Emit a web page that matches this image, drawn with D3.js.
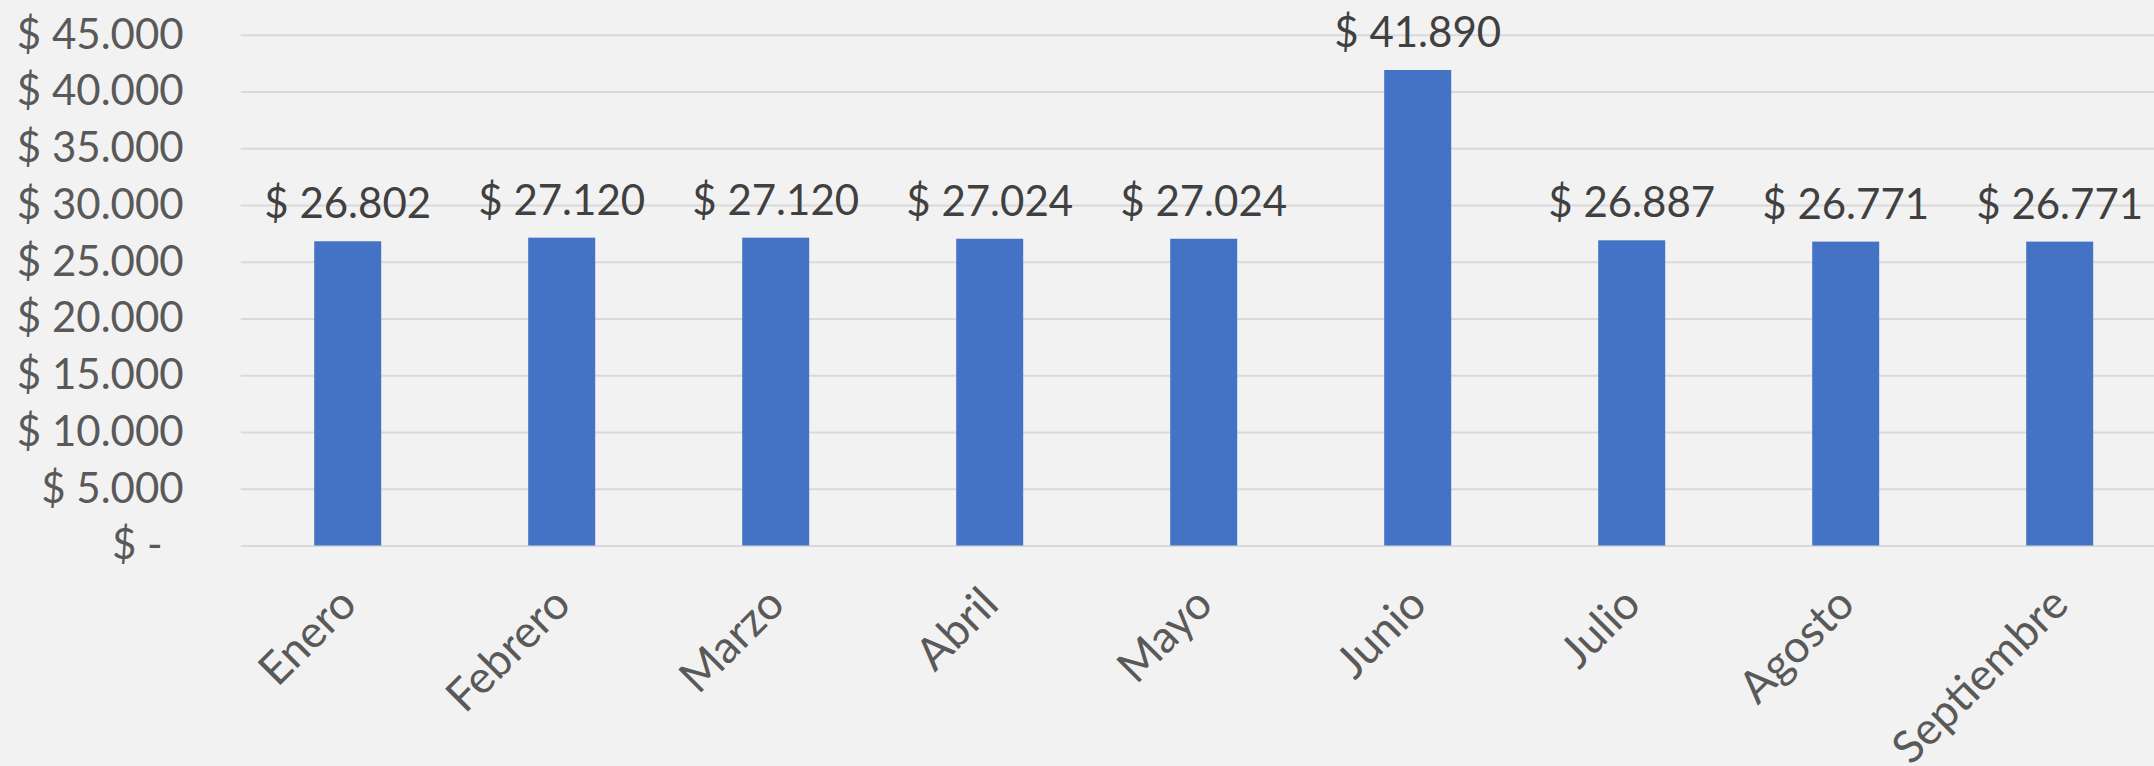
<!DOCTYPE html>
<html>
<head>
<meta charset="utf-8">
<script src="https://cdn.jsdelivr.net/npm/d3@7"></script>
<style>
    html, body { margin: 0; padding: 0; background: #f2f2f2; }
    svg { display: block; }
</style>
</head>
<body>
<div id="chart"></div>
<script>
// Chart data
const months = ['Enero', 'Febrero', 'Marzo', 'Abril', 'Mayo', 'Junio', 'Julio', 'Agosto', 'Septiembre'];
const amounts = [26802, 27120, 27120, 27024, 27024, 41890, 26887, 26771, 26771];
const yTicks = [0, 5000, 10000, 15000, 20000, 25000, 30000, 35000, 40000, 45000];

const width = 2154;
const height = 766;
const margin = { top: 34.7, left: 240.7, zero: 545.5 };
const step = 214;
const fontFamily = 'Lato, "Noto Sans", sans-serif';

const locale = d3.formatLocale({ decimal: ',', thousands: '.', grouping: [3], currency: ['$ ', ''] });
const money = v => v === 0 ? '$ -' : '$ ' + locale.format(',.0f')(v);

const svg = d3.select('#chart')
    .append('svg')
    .attr('width', width)
    .attr('height', height)
    .attr('font-family', fontFamily);

svg.append('rect')
    .attr('width', width)
    .attr('height', height)
    .attr('fill', '#f2f2f2');

// Scales
const xScale = d3.scaleBand()
    .domain(months)
    .range([margin.left, margin.left + step * months.length])
    .paddingInner(0.687)
    .paddingOuter(0.3435);

const yScale = d3.scaleLinear()
    .domain([0, 45000])
    .range([margin.zero, margin.top]);

// Gridlines + y labels
const yAxis = d3.axisLeft(yScale)
    .tickValues(yTicks)
    .tickSize(-(width - margin.left))
    .tickPadding(57)
    .tickFormat(money);

const yG = svg.append('g')
    .attr('transform', `translate(${margin.left}, 0)`)
    .call(yAxis)
    .attr('font-family', fontFamily);

yG.select('.domain').remove();
yG.selectAll('.tick line')
    .attr('stroke', '#d9d9d9')
    .attr('stroke-width', 2);
yG.selectAll('.tick text')
    .attr('fill', '#595959')
    .style('font-size', '42px')
    .attr('dx', d => d === 0 ? -21 : 0);

// Bars
svg.selectAll('rect.bar')
    .data(amounts)
    .enter()
    .append('rect')
    .attr('class', 'bar')
    .attr('x', (d, i) => xScale(months[i]))
    .attr('y', d => yScale(d))
    .attr('width', xScale.bandwidth())
    .attr('height', d => yScale(0) - yScale(d))
    .attr('fill', '#4472c4');

// Data labels
svg.selectAll('text.value')
    .data(amounts)
    .enter()
    .append('text')
    .attr('class', 'value')
    .attr('x', (d, i) => xScale(months[i]) + xScale.bandwidth() / 2)
    .attr('y', d => yScale(d) - 23)
    .attr('text-anchor', 'middle')
    .attr('fill', '#404040')
    .style('font-size', '42px')
    .text(d => money(d));

// X axis labels
const xAxis = d3.axisBottom(xScale).tickSize(0).tickPadding(0);
const xG = svg.append('g')
    .attr('transform', `translate(0, ${margin.zero})`)
    .call(xAxis)
    .attr('font-family', fontFamily);

xG.select('.domain').remove();
xG.selectAll('.tick text')
    .attr('fill', '#595959')
    .style('font-size', '45px')
    .attr('text-anchor', 'end')
    .attr('dy', '0.35em')
    .attr('transform', 'translate(0, 50) rotate(-45)');
</script>
</body>
</html>
